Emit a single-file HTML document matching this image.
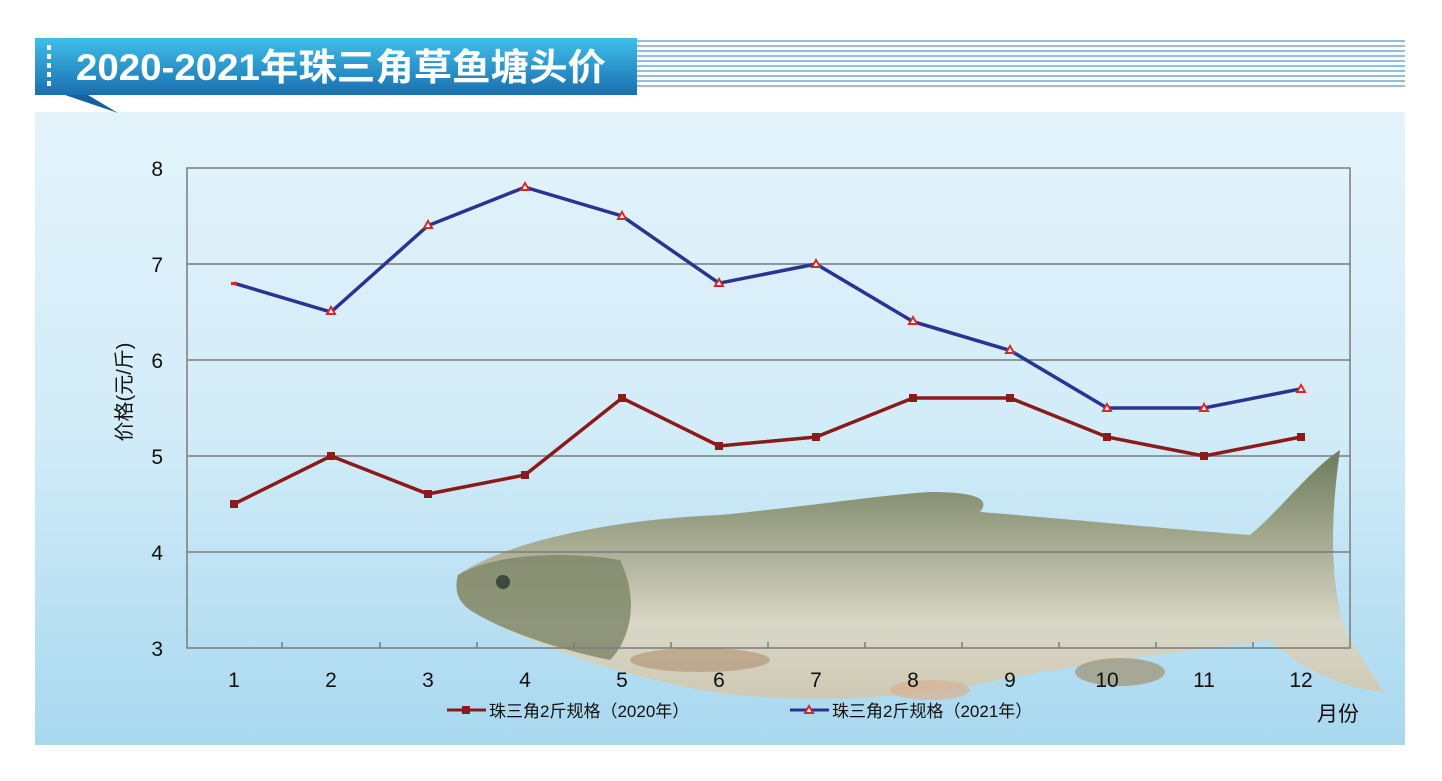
<!DOCTYPE html>
<html><head><meta charset="utf-8"><style>
html,body{margin:0;padding:0;background:#fff;width:1442px;height:781px;overflow:hidden}
text{font-family:"Liberation Sans","Noto Sans CJK SC",sans-serif}
</style></head><body>
<svg width="1442" height="781" viewBox="0 0 1442 781" xmlns="http://www.w3.org/2000/svg">
<defs>
<linearGradient id="bg" x1="0" y1="0" x2="0" y2="1">
<stop offset="0" stop-color="#e3f3fb"/><stop offset="0.5" stop-color="#d2ecf8"/><stop offset="1" stop-color="#a8d8ef"/></linearGradient>
<linearGradient id="hd" x1="0" y1="0" x2="0" y2="1">
<stop offset="0" stop-color="#3fbfe8"/><stop offset="1" stop-color="#1a6fb0"/></linearGradient>
<linearGradient id="fish" x1="0" y1="0" x2="0" y2="1">
<stop offset="0" stop-color="#6e7a5c"/><stop offset="0.35" stop-color="#a3a88e"/><stop offset="0.7" stop-color="#d8d7c6"/><stop offset="1" stop-color="#cfc9b4"/></linearGradient>
</defs>
<rect x="35" y="112" width="1370" height="633" fill="url(#bg)"/>
<rect x="35" y="38" width="602" height="57" fill="url(#hd)"/>
<polygon points="65,95 88,95 118,113" fill="#1a5f98"/>
<g fill="#fff"><rect x="47" y="45" width="4" height="5"/><rect x="47" y="54" width="4" height="5"/><rect x="47" y="63" width="4" height="5"/><rect x="47" y="72" width="4" height="5"/><rect x="47" y="81" width="4" height="5"/></g>
<text x="76" y="80" font-size="37" font-weight="bold" fill="#fff" textLength="530" lengthAdjust="spacingAndGlyphs">2020-2021年珠三角草鱼塘头价</text>
<g stroke="#8fbfe0" stroke-width="2">
<line x1="637" y1="41" x2="1405" y2="41"/><line x1="637" y1="46" x2="1405" y2="46"/><line x1="637" y1="51" x2="1405" y2="51"/><line x1="637" y1="56" x2="1405" y2="56"/><line x1="637" y1="61" x2="1405" y2="61"/><line x1="637" y1="66" x2="1405" y2="66"/><line x1="637" y1="71" x2="1405" y2="71"/><line x1="637" y1="76" x2="1405" y2="76"/><line x1="637" y1="81" x2="1405" y2="81"/><line x1="637" y1="86" x2="1405" y2="86"/></g>
<path d="M458,575 C500,545 600,520 720,515 C820,505 880,495 930,492 C980,492 990,500 980,512 C1080,520 1180,530 1250,535 C1280,510 1310,470 1340,450 C1330,520 1330,580 1345,630 C1360,655 1375,680 1385,692 C1350,690 1300,670 1270,640 C1200,650 1100,660 1000,680 C900,700 800,705 700,690 C600,670 520,640 470,610 C455,600 455,585 458,575 Z" fill="url(#fish)"/>
<path d="M458,575 C490,555 560,550 620,560 C640,600 630,640 610,660 C560,650 500,630 470,610 C455,600 455,585 458,575Z" fill="#7d8466" opacity="0.8"/>
<circle cx="503" cy="582" r="7" fill="#3e4a3a"/>
<ellipse cx="700" cy="660" rx="70" ry="12" fill="#b8a082" opacity="0.8"/>
<ellipse cx="1120" cy="672" rx="45" ry="14" fill="#a49a80" opacity="0.8"/>
<ellipse cx="930" cy="690" rx="40" ry="10" fill="#d8b090" opacity="0.7"/>
<g stroke="#7b7b7b" stroke-width="1.5" fill="none">
<rect x="187" y="168" width="1163" height="480"/>
<line x1="187" y1="264" x2="1350" y2="264"/><line x1="187" y1="360" x2="1350" y2="360"/><line x1="187" y1="456" x2="1350" y2="456"/><line x1="187" y1="552" x2="1350" y2="552"/>
</g>
<g stroke="#7b7b7b" stroke-width="1.5">
<line x1="282" y1="648" x2="282" y2="642"/><line x1="380" y1="648" x2="380" y2="642"/><line x1="477" y1="648" x2="477" y2="642"/><line x1="574" y1="648" x2="574" y2="642"/><line x1="671" y1="648" x2="671" y2="642"/><line x1="768" y1="648" x2="768" y2="642"/><line x1="865" y1="648" x2="865" y2="642"/><line x1="962" y1="648" x2="962" y2="642"/><line x1="1059" y1="648" x2="1059" y2="642"/><line x1="1156" y1="648" x2="1156" y2="642"/><line x1="1253" y1="648" x2="1253" y2="642"/></g>
<g font-size="21" fill="#111" text-anchor="end">
<text x="163" y="176">8</text><text x="163" y="272">7</text><text x="163" y="368">6</text><text x="163" y="464">5</text><text x="163" y="560">4</text><text x="163" y="656">3</text></g>
<g font-size="21" fill="#111" text-anchor="middle">
<text x="234" y="687">1</text><text x="331" y="687">2</text><text x="428" y="687">3</text><text x="525" y="687">4</text><text x="622" y="687">5</text><text x="719" y="687">6</text><text x="816" y="687">7</text><text x="913" y="687">8</text><text x="1010" y="687">9</text><text x="1107" y="687">10</text><text x="1204" y="687">11</text><text x="1301" y="687">12</text></g>
<text transform="translate(131,392) rotate(-90)" font-size="20" fill="#111" text-anchor="middle">价格(元/斤)</text>
<text x="1338" y="721" font-size="21" fill="#111" text-anchor="middle">月份</text>
<polyline fill="none" stroke="#8b1a1a" stroke-width="3.5" points="234,504 331,456 428,494 525,475 622,398 719,446 816,437 913,398 1010,398 1107,437 1204,456 1301,437"/>
<g fill="#8b1a1a">
<rect x="230" y="500" width="8" height="8"/><rect x="327" y="452" width="8" height="8"/><rect x="424" y="490" width="8" height="8"/><rect x="521" y="471" width="8" height="8"/><rect x="618" y="394" width="8" height="8"/><rect x="715" y="442" width="8" height="8"/><rect x="812" y="433" width="8" height="8"/><rect x="909" y="394" width="8" height="8"/><rect x="1006" y="394" width="8" height="8"/><rect x="1103" y="433" width="8" height="8"/><rect x="1200" y="452" width="8" height="8"/><rect x="1297" y="433" width="8" height="8"/></g>
<polyline fill="none" stroke="#2b3390" stroke-width="3.5" points="234,283.2 331,312 428,225.6 525,187.2 622,216 719,283.2 816,264 913,321.6 1010,350.4 1107,408 1204,408 1301,388.8"/>
<g fill="#fff" stroke="#d42a2a" stroke-width="2">
<polygon points="331,307 335,314 327,314"/><polygon points="428,221 432,228 424,228"/><polygon points="525,183 529,190 521,190"/><polygon points="622,212 626,219 618,219"/><polygon points="719,279 723,286 715,286"/><polygon points="816,260 820,267 812,267"/><polygon points="913,317 917,324 909,324"/><polygon points="1010,346 1014,353 1006,353"/><polygon points="1107,404 1111,411 1103,411"/><polygon points="1204,404 1208,411 1200,411"/><polygon points="1301,385 1305,392 1297,392"/></g>
<rect x="231" y="282" width="6" height="3" fill="#d42a2a"/>
<line x1="447" y1="710" x2="486" y2="710" stroke="#8b1a1a" stroke-width="3"/>
<rect x="462" y="706" width="8" height="8" fill="#8b1a1a"/>
<text x="489" y="717" font-size="17" fill="#111">珠三角2斤规格（2020年）</text>
<line x1="790" y1="710" x2="829" y2="710" stroke="#2b3390" stroke-width="3"/>
<polygon points="809,706 813,713 805,713" fill="#fff" stroke="#d42a2a" stroke-width="2"/>
<text x="832" y="717" font-size="17" fill="#111">珠三角2斤规格（2021年）</text>
</svg>
</body></html>
